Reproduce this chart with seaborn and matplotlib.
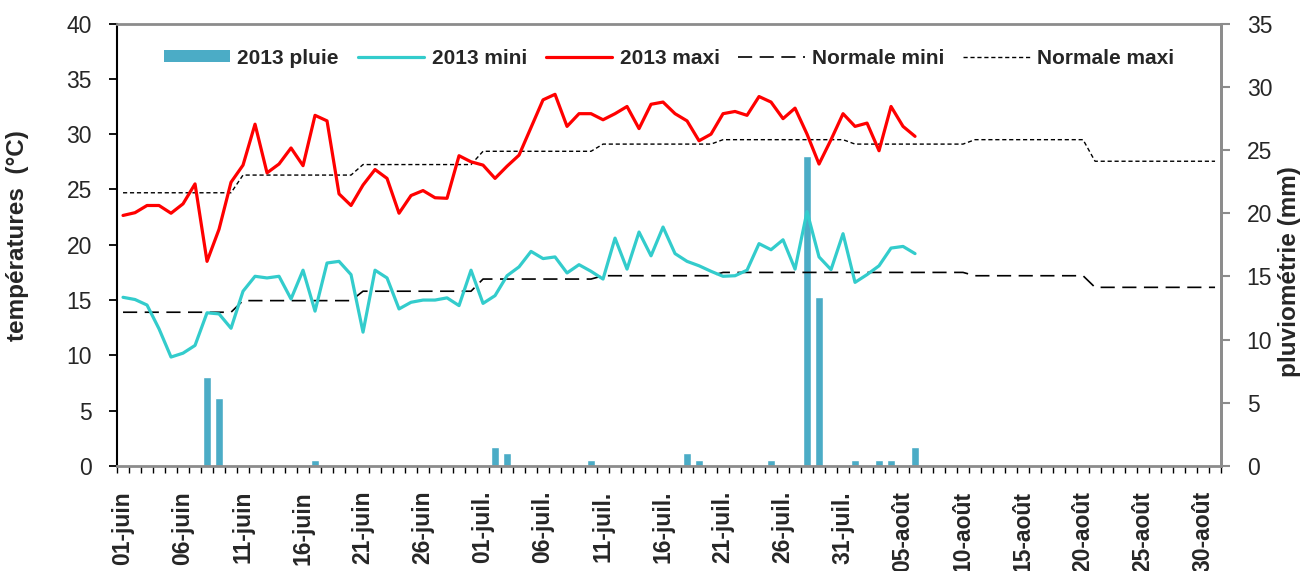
import matplotlib
matplotlib.use('Agg')
import matplotlib.pyplot as plt
from matplotlib.patches import Patch
from matplotlib.lines import Line2D
import seaborn as sns
import numpy as np
import pandas as pd

sns.set_theme(style='white')
plt.rcParams['font.family'] = ['Liberation Sans', 'DejaVu Sans']

# Étiquettes des dates (tous les 5 jours, du 01-juin au 30-août)
etiquettes = ['01-juin', '06-juin', '11-juin', '16-juin', '21-juin', '26-juin',
              '01-juil.', '06-juil.', '11-juil.', '16-juil.', '21-juil.', '26-juil.',
              '31-juil.', '05-août', '10-août', '15-août', '20-août', '25-août', '30-août']

# Températures maxi 2013 (01-juin -> 06-août)
maxi_2013 = [22.65, 22.9, 23.55, 23.55, 22.85, 23.7, 25.5, 18.5, 21.4, 25.65,
             27.2, 30.9, 26.5, 27.3, 28.75, 27.15, 31.7, 31.2, 24.6, 23.55,
             25.4, 26.8, 26.0, 22.85, 24.45, 24.9, 24.25, 24.2, 28.05, 27.5,
             27.2, 26.0, 27.1, 28.1, 30.6, 33.1, 33.6, 30.7, 31.85, 31.85,
             31.3, 31.85, 32.5, 30.5, 32.7, 32.9, 31.85, 31.2, 29.4, 30.0,
             31.85, 32.05, 31.7, 33.4, 32.9, 31.4, 32.35, 30.0, 27.3, 29.5,
             31.85, 30.7, 31.0, 28.5, 32.5, 30.7, 29.8]

# Températures mini 2013
mini_2013 = [15.25, 15.05, 14.55, 12.4, 9.85, 10.2, 10.9, 13.85, 13.75, 12.45,
             15.8, 17.15, 17.0, 17.15, 15.1, 17.7, 14.0, 18.35, 18.5, 17.3,
             12.1, 17.7, 17.0, 14.2, 14.8, 15.0, 15.0, 15.2, 14.5, 17.7,
             14.7, 15.4, 17.2, 18.0, 19.4, 18.75, 18.9, 17.45, 18.2, 17.6,
             16.9, 20.6, 17.8, 21.15, 19.0, 21.6, 19.2, 18.5, 18.1, 17.6,
             17.15, 17.2, 17.7, 20.1, 19.55, 20.45, 17.8, 23.0, 18.9, 17.75,
             21.0, 16.6, 17.3, 18.1, 19.7, 19.85, 19.2]

# Pluie 2013 (mm)
pluie_2013 = [0, 0, 0, 0, 0, 0, 0, 7.0, 5.4, 0,
              0, 0, 0, 0, 0, 0, 0.5, 0, 0, 0,
              0, 0, 0, 0, 0, 0, 0, 0, 0, 0,
              0, 1.5, 1.0, 0, 0, 0, 0, 0, 0, 0.5,
              0, 0, 0, 0, 0, 0, 0, 1.0, 0.5, 0,
              0, 0, 0, 0, 0.5, 0, 0, 24.5, 13.4, 0,
              0, 0.5, 0, 0.5, 0.5, 0, 1.5]

# Normales décadaires (01-juin -> 31-août)
normale_maxi = [24.7, 24.7, 24.7, 24.7, 24.7, 24.7, 24.7, 24.7, 24.7, 24.7,
                26.3, 26.3, 26.3, 26.3, 26.3, 26.3, 26.3, 26.3, 26.3, 26.3,
                27.25, 27.25, 27.25, 27.25, 27.25, 27.25, 27.25, 27.25, 27.25, 27.25,
                28.45, 28.45, 28.45, 28.45, 28.45, 28.45, 28.45, 28.45, 28.45, 28.45,
                29.1, 29.1, 29.1, 29.1, 29.1, 29.1, 29.1, 29.1, 29.1, 29.1,
                29.5, 29.5, 29.5, 29.5, 29.5, 29.5, 29.5, 29.5, 29.5, 29.5, 29.5,
                29.1, 29.1, 29.1, 29.1, 29.1, 29.1, 29.1, 29.1, 29.1, 29.1,
                29.5, 29.5, 29.5, 29.5, 29.5, 29.5, 29.5, 29.5, 29.5, 29.5,
                27.55, 27.55, 27.55, 27.55, 27.55, 27.55, 27.55, 27.55, 27.55, 27.55, 27.55]

normale_mini = [13.9, 13.9, 13.9, 13.9, 13.9, 13.9, 13.9, 13.9, 13.9, 13.9,
                14.95, 14.95, 14.95, 14.95, 14.95, 14.95, 14.95, 14.95, 14.95, 14.95,
                15.8, 15.8, 15.8, 15.8, 15.8, 15.8, 15.8, 15.8, 15.8, 15.8,
                16.9, 16.9, 16.9, 16.9, 16.9, 16.9, 16.9, 16.9, 16.9, 16.9,
                17.2, 17.2, 17.2, 17.2, 17.2, 17.2, 17.2, 17.2, 17.2, 17.2,
                17.5, 17.5, 17.5, 17.5, 17.5, 17.5, 17.5, 17.5, 17.5, 17.5, 17.5,
                17.5, 17.5, 17.5, 17.5, 17.5, 17.5, 17.5, 17.5, 17.5, 17.5,
                17.2, 17.2, 17.2, 17.2, 17.2, 17.2, 17.2, 17.2, 17.2, 17.2,
                16.15, 16.15, 16.15, 16.15, 16.15, 16.15, 16.15, 16.15, 16.15, 16.15, 16.15]

c_pluie = '#4BACC6'
c_mini = '#33CCCC'
c_maxi = '#FF0000'
gris = '#8C8C8C'

df_2013 = pd.DataFrame({'jour': np.arange(len(maxi_2013)),
                        'maxi': maxi_2013, 'mini': mini_2013, 'pluie': pluie_2013})
df_norm = pd.DataFrame({'jour': np.arange(len(normale_maxi)),
                        'nmaxi': normale_maxi, 'nmini': normale_mini})

fig = plt.figure(figsize=(13.09, 5.71), dpi=100)
ax = fig.add_axes([0.0894, 0.1839, 0.8434, 0.7749])
ax2 = ax.twinx()

# Barres de pluie sur l'axe secondaire (derrière les courbes)
sns.barplot(data=df_2013, x='jour', y='pluie', native_scale=True, width=0.65,
            color=c_pluie, saturation=1, errorbar=None, ax=ax2)

sns.lineplot(data=df_norm, x='jour', y='nmini', color='black', lw=1.2,
             ax=ax, legend=False)
ax.lines[-1].set_dashes((8.5, 4.5))
sns.lineplot(data=df_norm, x='jour', y='nmaxi', color='black', lw=1.0,
             ax=ax, legend=False)
ax.lines[-1].set_dashes((3, 2))
sns.lineplot(data=df_2013, x='jour', y='mini', color=c_mini, lw=2.3, ax=ax, legend=False)
sns.lineplot(data=df_2013, x='jour', y='maxi', color=c_maxi, lw=2.3, ax=ax, legend=False)

ax.set_zorder(ax2.get_zorder() + 1)
ax.patch.set_visible(False)

ax.set_xlim(-0.5, 91.5)
ax.set_ylim(0, 40)
ax2.set_ylim(0, 35)
ax.set_yticks(np.arange(0, 41, 5))
ax2.set_yticks(np.arange(0, 36, 5))

ax.set_xticks(np.arange(0, 91, 5))
ax.set_xticklabels(etiquettes, rotation=90, fontsize=16.5, fontweight='bold', va='top')
ax.set_xticks(np.arange(-0.5, 92, 1), minor=True)
ax.tick_params(axis='x', which='major', length=0, pad=18)
ax.tick_params(axis='x', which='minor', bottom=True, length=5, width=1, color='black',
               direction='out')
ax.tick_params(axis='y', left=True, length=6, width=1.3, color='black', pad=12,
               labelsize=16.5, direction='out')
ax2.tick_params(axis='y', right=True, length=6.5, width=1.5, color=gris, pad=12,
                labelsize=16.5, direction='out')
ax2.tick_params(axis='x', bottom=False, labelbottom=False)

ax.set_xlabel('')
ax.set_ylabel('températures  (°C)', fontsize=17.5, fontweight='bold')
ax2.set_xlabel('')
ax2.set_ylabel('pluviométrie (mm)', fontsize=17.5, fontweight='bold')
ax.yaxis.set_label_coords(-0.08, 0.52)
ax2.yaxis.set_label_coords(1.052, 0.44)

for s in ['top', 'right', 'bottom']:
    ax.spines[s].set_color(gris)
    ax.spines[s].set_linewidth(2)
ax.spines['left'].set_color('black')
ax.spines['left'].set_linewidth(1.5)
for s in ['top', 'left', 'bottom']:
    ax2.spines[s].set_visible(False)
ax2.spines['right'].set_color(gris)
ax2.spines['right'].set_linewidth(2)

handles = [Patch(facecolor=c_pluie, edgecolor='none'),
           Line2D([], [], color=c_mini, lw=2.3),
           Line2D([], [], color=c_maxi, lw=2.3),
           Line2D([], [], color='black', lw=1.2, dashes=(8.5, 4.5)),
           Line2D([], [], color='black', lw=1.0, dashes=(3, 2))]
labels = ['2013 pluie', '2013 mini', '2013 maxi', 'Normale mini', 'Normale maxi']
ax.legend(handles, labels, ncol=5, loc='center', bbox_to_anchor=(0.5, 0.922),
          frameon=False, prop={'weight': 'bold', 'size': 15},
          handlelength=3.2, handleheight=0.5, handletextpad=0.35, columnspacing=0.9)

fig.savefig('out.png', dpi=100)
